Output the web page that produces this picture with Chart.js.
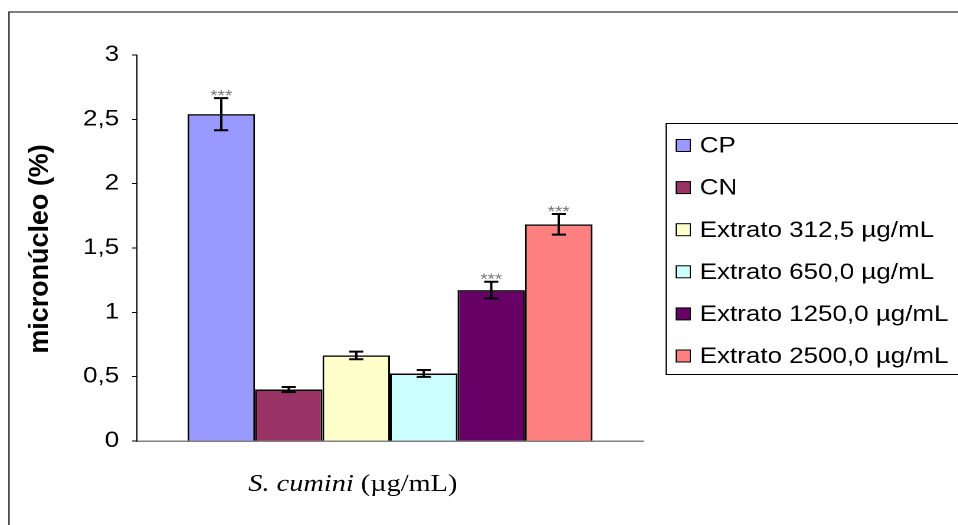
<!DOCTYPE html>
<html>
<head>
<meta charset="utf-8">
<script src="https://cdn.jsdelivr.net/npm/chart.js@4/dist/chart.umd.min.js"></script>
<style>
    html, body {margin: 0; padding: 0; background: #fff; overflow: hidden;}
    #chart {position: absolute; left: 0; top: 0; transform: scaleX(1.18); transform-origin: 0 0;}
</style>
</head>
<body>
<canvas id="chart" width="812" height="525" style="width:812px;height:525px"></canvas>
<script>
    // series
    const seriesNames = ['CP', 'CN', 'Extrato 312,5 µg/mL', 'Extrato 650,0 µg/mL', 'Extrato 1250,0 µg/mL', 'Extrato 2500,0 µg/mL'];
    const seriesValues = [2.54, 0.40, 0.665, 0.525, 1.173, 1.684];
    const seriesErrors = [0.125, 0.02, 0.03, 0.027, 0.065, 0.08];
    const seriesStars = ['***', '', '', '', '***', '***'];
    const seriesColors = ['#9999ff', '#993366', '#ffffcc', '#ccffff', '#660066', '#ff8080'];
    const yTicks = [0, 0.5, 1, 1.5, 2, 2.5, 3];

    const sans = "'Liberation Sans', Arial, sans-serif";
    const serif = "'Liberation Serif', 'Times New Roman', serif";
    Chart.defaults.font.family = sans;
    Chart.defaults.color = '#000';

    const comma = value => String(value).replace('.', ',');

    const errorBars = {
        id: 'errorBars',
        afterDatasetsDraw(chart) {
            const ctx = chart.ctx;
            const y = chart.scales.y;
            ctx.save();
            ctx.strokeStyle = '#000';
            ctx.lineWidth = 2;
            seriesValues.forEach((value, i) => {
                const bar = chart.getDatasetMeta(i).data[0];
                const top = y.getPixelForValue(value + seriesErrors[i]);
                const bottom = y.getPixelForValue(value - seriesErrors[i]);
                ctx.beginPath();
                ctx.moveTo(bar.x, top);
                ctx.lineTo(bar.x, bottom);
                ctx.moveTo(bar.x - 6, top);
                ctx.lineTo(bar.x + 6, top);
                ctx.moveTo(bar.x - 6, bottom);
                ctx.lineTo(bar.x + 6, bottom);
                ctx.stroke();
                if (seriesStars[i]) {
                    ctx.fillStyle = '#777';
                    ctx.font = '16px ' + sans;
                    ctx.textAlign = 'center';
                    ctx.textBaseline = 'alphabetic';
                    ctx.fillText(seriesStars[i], bar.x, top + 3);
                }
            });
            ctx.restore();
        }
    };

    const decorations = {
        id: 'decorations',
        afterDraw(chart) {
            const ctx = chart.ctx;
            ctx.save();

            // outer frame (only top and left are inside the picture)
            ctx.strokeStyle = '#000';
            ctx.lineWidth = 1;
            ctx.beginPath();
            ctx.moveTo(7.6, 525);
            ctx.lineTo(7.6, 12);
            ctx.lineTo(820, 12);
            ctx.stroke();

            // y title
            ctx.save();
            ctx.translate(34, 249);
            ctx.rotate(-Math.PI / 2);
            ctx.scale(1.17, 1);
            ctx.font = 'bold 23px ' + sans;
            ctx.textAlign = 'center';
            ctx.textBaseline = 'middle';
            ctx.fillText('micronúcleo (%)', 0, 0);
            ctx.restore();

            // x title
            const parts = [['italic 24px ' + serif, 'S. cumini'], ['24px ' + serif, ' (µg/mL)']];
            let total = 0;
            parts.forEach(p => { ctx.font = p[0]; total += ctx.measureText(p[1]).width; });
            let x = 299 - total / 2;
            ctx.textAlign = 'left';
            ctx.textBaseline = 'alphabetic';
            parts.forEach(p => {
                ctx.font = p[0];
                ctx.fillText(p[1], x, 491);
                x += ctx.measureText(p[1]).width;
            });

            // legend
            ctx.strokeStyle = '#000';
            ctx.lineWidth = 1;
            ctx.strokeRect(564.5, 123.5, 300, 251);
            ctx.font = '22px ' + sans;
            ctx.textBaseline = 'middle';
            seriesNames.forEach((name, i) => {
                const cy = 145.5 + i * 42.1;
                ctx.fillStyle = seriesColors[i];
                ctx.fillRect(573, cy - 6, 12, 12);
                ctx.strokeRect(573, cy - 6, 12, 12);
                ctx.fillStyle = '#000';
                ctx.fillText(name, 593, cy + 1);
            });

            ctx.restore();
        }
    };

    new Chart(document.getElementById('chart'), {
        type: 'bar',
        data: {
            labels: [''],
            datasets: seriesNames.map((name, i) => ({
                label: name,
                data: [seriesValues[i]],
                backgroundColor: seriesColors[i],
                borderColor: '#000',
                borderWidth: 1.5,
                categoryPercentage: 0.8,
                barPercentage: 1
            }))
        },
        options: {
            responsive: false,
            animation: false,
            devicePixelRatio: 2,
            layout: {padding: {top: 55, right: 267, left: 0, bottom: 0}},
            plugins: {legend: {display: false}, tooltip: {enabled: false}},
            scales: {
                x: {
                    ticks: {display: false},
                    grid: {display: false},
                    border: {color: '#808080', width: 1.5},
                    afterFit: scale => { scale.height = 84; }
                },
                y: {
                    min: 0,
                    max: 3,
                    afterBuildTicks: scale => { scale.ticks = yTicks.map(value => ({value})); },
                    ticks: {callback: comma, font: {size: 22}, padding: 11, color: '#000'},
                    grid: {drawOnChartArea: false, tickLength: 4, color: '#000'},
                    border: {color: '#000', width: 1},
                    afterFit: scale => { scale.width = 116; }
                }
            }
        },
        plugins: [errorBars, decorations]
    });
</script>
</body>
</html>
